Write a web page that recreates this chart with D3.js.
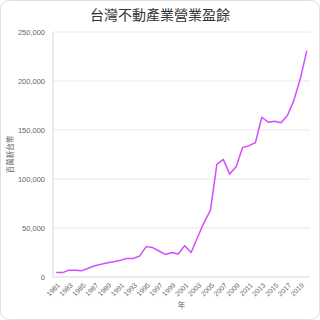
<!DOCTYPE html>
<html>
<head>
<meta charset="utf-8">
<script src="https://cdn.jsdelivr.net/npm/d3@7"></script>
<style>
  html, body { margin: 0; padding: 0; background: #fff; }
  svg { display: block; font-family: "Noto Sans CJK TC", "Noto Sans", sans-serif; }
</style>
</head>
<body>
<svg id="chart" width="320" height="320"></svg>
<script>
// Years on the x axis
const years = d3.range(1981, 2021);

// Operating surplus, millions of NTD
const surplus = [
  4500, 4500, 7000, 7000, 6500, 9000, 11500, 13000, 14500, 15500,
  17000, 19000, 19000, 21500, 31000, 30000, 26500, 23000, 25000, 23500,
  32000, 25000, 40500, 55500, 68000, 115000, 120000, 105000, 112500, 132000,
  134000, 137000, 163000, 158000, 159000, 157500, 165000, 180500, 202500, 231000
];

const yTicks = [0, 50000, 100000, 150000, 200000, 250000];

const TITLE = "台灣不動產業營業盈餘";
const X_LABEL = "年";
const Y_LABEL = "百萬新台幣";

const WIDTH = 320;
const HEIGHT = 320;
const margin = { top: 32, right: 10, bottom: 43, left: 53 };

const svg = d3.select("#chart");

// card outline
svg.append("rect")
  .attr("x", 0.5).attr("y", 0.5)
  .attr("width", WIDTH - 1).attr("height", HEIGHT - 1)
  .attr("rx", 8)
  .attr("fill", "#fff")
  .attr("stroke", "#e0e0e0");

const x = d3.scalePoint()
  .domain(years)
  .range([margin.left, WIDTH - margin.right])
  .padding(0.5);

const y = d3.scaleLinear()
  .domain([0, 250000])
  .range([HEIGHT - margin.bottom, margin.top]);

// horizontal grid lines
svg.append("g")
  .selectAll("line")
  .data(yTicks)
  .enter()
  .append("line")
  .attr("x1", margin.left)
  .attr("x2", WIDTH - margin.right)
  .attr("y1", (d) => y(d))
  .attr("y2", (d) => y(d))
  .attr("stroke", (d) => (d === 0 ? "#d8d8d8" : "#e8e8e8"));

// y axis line
svg.append("line")
  .attr("x1", margin.left).attr("x2", margin.left)
  .attr("y1", margin.top).attr("y2", HEIGHT - margin.bottom)
  .attr("stroke", "#d8d8d8");

// y tick labels
const yAxis = svg.append("g")
  .attr("transform", `translate(${margin.left},0)`)
  .call(d3.axisLeft(y).tickValues(yTicks).tickFormat(d3.format(",")).tickSize(0).tickPadding(8));
yAxis.select(".domain").remove();
yAxis.selectAll("text")
  .attr("fill", "#666")
  .style("font-size", "7.5px");

// x tick labels, every other year, rotated
const xAxis = svg.append("g")
  .attr("transform", `translate(0,${HEIGHT - margin.bottom})`)
  .call(d3.axisBottom(x).tickValues(years.filter((d, i) => i % 2 === 0)).tickSize(0));
xAxis.select(".domain").remove();
xAxis.selectAll("text")
  .attr("fill", "#666")
  .style("font-size", "7px")
  .attr("x", 0)
  .attr("y", 0)
  .attr("dy", "0.35em")
  .attr("text-anchor", "end")
  .attr("transform", "translate(2,7) rotate(-45)");

// the line itself
const line = d3.line()
  .x((d, i) => x(years[i]))
  .y((d) => y(d));

svg.append("path")
  .datum(surplus)
  .attr("d", line)
  .attr("fill", "none")
  .attr("stroke", "#d24dff")
  .attr("stroke-width", 1.5)
  .attr("stroke-linejoin", "round");

// title
svg.append("text")
  .text(TITLE)
  .attr("x", WIDTH / 2)
  .attr("y", 20)
  .attr("text-anchor", "middle")
  .attr("fill", "#333")
  .style("font-size", "14px");

// axis titles
svg.append("text")
  .text(X_LABEL)
  .attr("x", (margin.left + WIDTH - margin.right) / 2)
  .attr("y", 308)
  .attr("text-anchor", "middle")
  .attr("fill", "#666")
  .style("font-size", "7.5px");

svg.append("text")
  .text(Y_LABEL)
  .attr("transform", `translate(13,${(margin.top + HEIGHT - margin.bottom) / 2}) rotate(-90)`)
  .attr("text-anchor", "middle")
  .attr("fill", "#666")
  .style("font-size", "7.5px");
</script>
</body>
</html>
